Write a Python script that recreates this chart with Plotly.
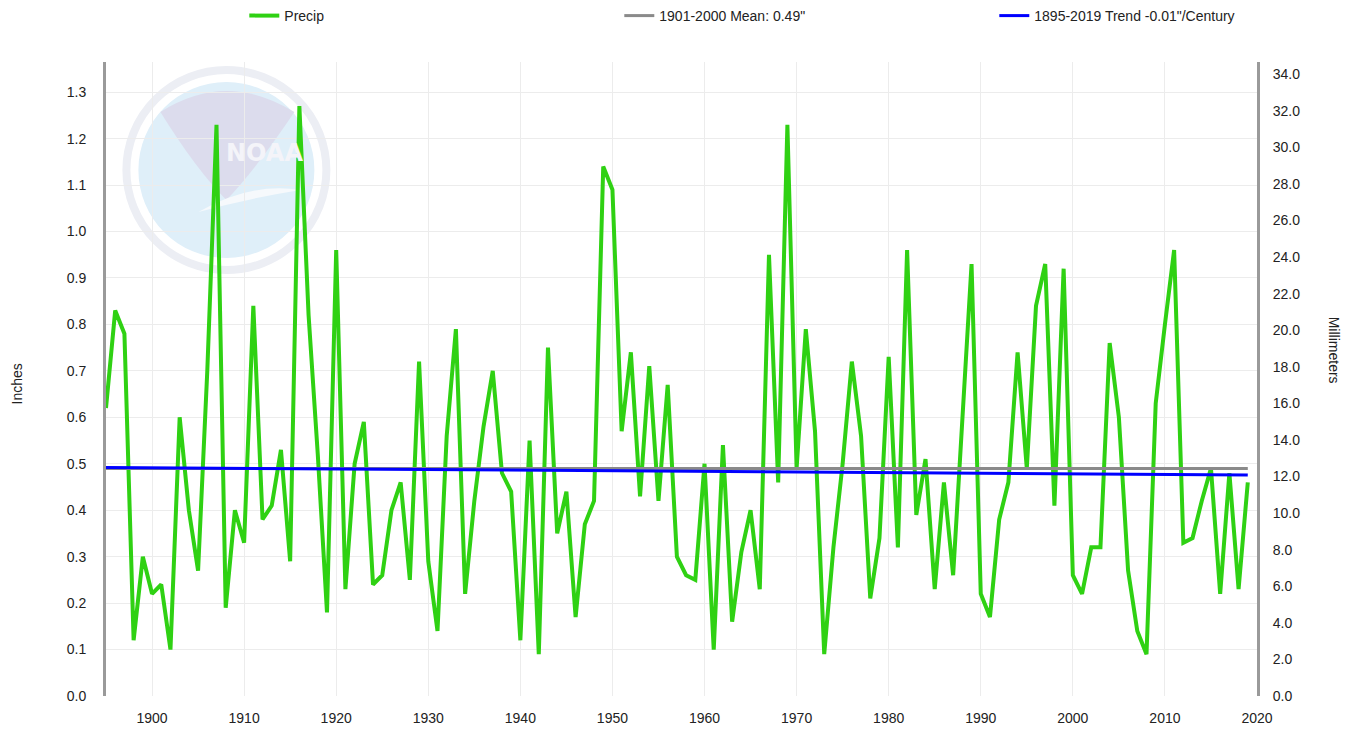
import plotly.graph_objects as go

# ---------------- data ----------------
years = list(range(1895, 2020))
precip = [
    0.62, 0.83, 0.78, 0.12, 0.30, 0.22, 0.24, 0.10, 0.60, 0.40,   # 1895-1904
    0.27, 0.70, 1.23, 0.19, 0.40, 0.33, 0.84, 0.38, 0.41, 0.53,   # 1905-1914
    0.29, 1.27, 0.82, 0.52, 0.18, 0.96, 0.23, 0.50, 0.59, 0.24,   # 1915-1924
    0.26, 0.40, 0.46, 0.25, 0.72, 0.29, 0.14, 0.56, 0.79, 0.22,   # 1925-1934
    0.42, 0.58, 0.70, 0.48, 0.44, 0.12, 0.55, 0.09, 0.75, 0.35,   # 1935-1944
    0.44, 0.17, 0.37, 0.42, 1.14, 1.09, 0.57, 0.74, 0.43, 0.71,   # 1945-1954
    0.42, 0.67, 0.30, 0.26, 0.25, 0.50, 0.10, 0.54, 0.16, 0.31,   # 1955-1964
    0.40, 0.23, 0.95, 0.46, 1.23, 0.49, 0.79, 0.57, 0.09, 0.32,   # 1965-1974
    0.50, 0.72, 0.56, 0.21, 0.34, 0.73, 0.32, 0.96, 0.39, 0.51,   # 1975-1984
    0.23, 0.46, 0.26, 0.60, 0.93, 0.22, 0.17, 0.38, 0.46, 0.74,   # 1985-1994
    0.49, 0.84, 0.93, 0.41, 0.92, 0.26, 0.22, 0.32, 0.32, 0.76,   # 1995-2004
    0.60, 0.27, 0.14, 0.09, 0.63, 0.80, 0.96, 0.33, 0.34, 0.42,   # 2005-2014
    0.49, 0.22, 0.48, 0.23, 0.46,                                 # 2015-2019
]
mean_years = [1895, 2019]
mean_values = [0.49, 0.49]
trend_years = [1895, 2019]
trend_values = [0.492, 0.476]

legend_names = ["Precip", "1901-2000 Mean: 0.49\"", "1895-2019 Trend -0.01\"/Century"]
x_ticks = list(range(1900, 2021, 10))

# ---------------- layout geometry (pixels) ----------------
W, H = 1346, 730
PL, PR, PT, PB = 105.6, 1256.7, 62, 696
INCH_MAX = 1.365
MM_PER_INCH = 25.4

def px(x):
    return (x - PL) / (PR - PL)

def py(y):
    return (PB - y) / (PB - PT)

FONT = "Liberation Sans, Arial, sans-serif"
GREEN = "#2fd113"

fig = go.Figure()

fig.add_trace(go.Scatter(x=years, y=precip, mode="lines", name=legend_names[0],
                         line=dict(color=GREEN, width=4)))
fig.add_trace(go.Scatter(x=mean_years, y=mean_values, mode="lines", name=legend_names[1],
                         line=dict(color="#8a8a8a", width=3)))
fig.add_trace(go.Scatter(x=trend_years, y=trend_values, mode="lines", name=legend_names[2],
                         line=dict(color="#0000ff", width=3)))
# invisible trace on the millimetre axis so it is drawn
fig.add_trace(go.Scatter(x=[years[0]], y=[precip[0] * MM_PER_INCH], yaxis="y2",
                         mode="lines", line=dict(width=0), showlegend=False,
                         hoverinfo="skip"))

# ---------------- NOAA-like watermark (decoration) ----------------
shapes = []
cx, cy, r_out, r_in = 226, 170, 100, 88
shapes.append(dict(type="circle", xref="paper", yref="paper", layer="below",
                   x0=px(cx - r_in), x1=px(cx + r_in), y0=py(cy + r_in), y1=py(cy - r_in),
                   fillcolor="#dfeff9", line=dict(width=0)))
# lavender upper part
shapes.append(dict(type="path", xref="paper", yref="paper", layer="below",
                   path=("M {a},{b} Q {c},{d} {e},{f} Q {g},{h} {i},{j} Q {k},{l} {a},{b} Z").format(
                       a=px(160), b=py(112), c=px(226), d=py(70), e=px(294), f=py(112),
                       g=px(255), h=py(170), i=px(226), j=py(200), k=px(196), l=py(170)),
                   fillcolor="#dcdced", line=dict(width=0)))
# white bird-like swoosh
shapes.append(dict(type="path", xref="paper", yref="paper", layer="below",
                   path=("M {a},{b} Q {c},{d} {e},{f} Q {g},{h} {a},{b} Z").format(
                       a=px(198), b=py(212), c=px(250), d=py(182), e=px(300), f=py(190),
                       g=px(250), h=py(198)),
                   fillcolor="#f6f9fc", line=dict(width=0)))
shapes.append(dict(type="circle", xref="paper", yref="paper", layer="below",
                   x0=px(cx - r_out), x1=px(cx + r_out), y0=py(cy + r_out), y1=py(cy - r_out),
                   fillcolor="rgba(0,0,0,0)", line=dict(color="#eceef4", width=8)))

annotations = [
    dict(text="<b>NOAA</b>", xref="paper", yref="paper", x=px(224), y=py(137),
         showarrow=False, font=dict(family="DejaVu Sans", size=24, color="#f4f4f9")),
    dict(text="Inches", xref="paper", yref="paper", x=px(17), y=py(384),
         xanchor="center", yanchor="middle",
         textangle=-90, showarrow=False, font=dict(family=FONT, size=14, color="#222")),
    dict(text="Millimeters", xref="paper", yref="paper", x=px(1334), y=py(350),
         xanchor="center", yanchor="middle",
         textangle=90, showarrow=False, font=dict(family=FONT, size=14, color="#222")),
]

fig.update_layout(
    width=W, height=H,
    margin=dict(l=PL, r=W - PR, t=PT, b=H - PB, pad=0, autoexpand=False),
    paper_bgcolor="white", plot_bgcolor="white",
    font=dict(family=FONT, size=14, color="#222"),
    showlegend=True,
    legend=dict(orientation="h", xref="container", yref="container",
                x=0.1815, y=1.0, xanchor="left", yanchor="top",
                entrywidth=330, entrywidthmode="pixels",
                font=dict(family=FONT, size=14, color="#222"),
                bgcolor="rgba(0,0,0,0)", itemwidth=30),
    xaxis=dict(range=[1895, 2020], tickvals=x_ticks, ticktext=[str(v) for v in x_ticks],
               showgrid=True, gridcolor="#ececec", gridwidth=1,
               zeroline=False, showline=False, ticks="", ticklabelstandoff=12,
               tickfont=dict(family=FONT, size=14, color="#222")),
    yaxis=dict(range=[0, INCH_MAX], dtick=0.1, tick0=0, tickformat=".1f",
               showgrid=True, gridcolor="#ececec", gridwidth=1,
               zeroline=False, showline=True, linecolor="#9a9a9a", linewidth=3,
               ticks="", ticklabelstandoff=14,
               tickfont=dict(family=FONT, size=14, color="#222")),
    yaxis2=dict(range=[0, INCH_MAX * MM_PER_INCH], dtick=2, tick0=0, tickformat=".1f",
                overlaying="y", side="right", showgrid=False, zeroline=False,
                showline=True, linecolor="#9a9a9a", linewidth=3,
                ticks="", ticklabelstandoff=10,
                tickfont=dict(family=FONT, size=14, color="#222")),
    shapes=shapes,
    annotations=annotations,
)

fig.write_html("out.html", config={"displayModeBar": False},
               post_script="document.body.style.margin='0';document.body.style.overflow='hidden';")
